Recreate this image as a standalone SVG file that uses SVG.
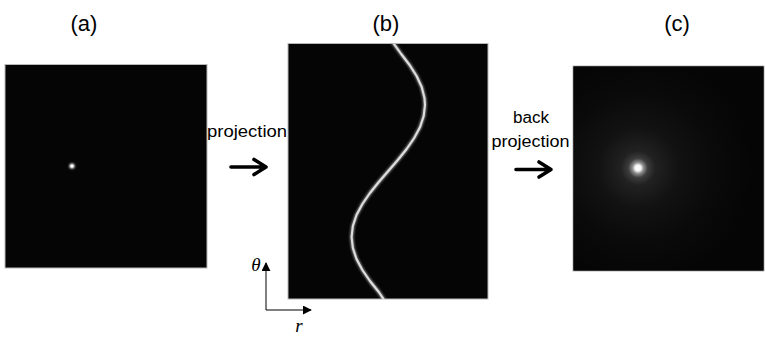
<svg xmlns="http://www.w3.org/2000/svg" width="765" height="337" viewBox="0 0 765 337">
<style>
.lbl{font-family:"Liberation Sans",Arial,sans-serif;font-size:22px;fill:#000;text-anchor:middle}
.cap{font-family:"Liberation Sans",Arial,sans-serif;font-size:16px;fill:#000;text-anchor:middle}
.ax{font-family:"Liberation Serif","Times New Roman",serif;font-style:italic;font-size:19px;fill:#000;text-anchor:middle}
.panel{fill:#050505;stroke:#b8b8b8;stroke-width:1}
.big{fill:none;stroke:#000;stroke-width:3.6;stroke-linecap:round;stroke-linejoin:round}
.thin{fill:none;stroke:#000;stroke-width:1}
</style>
<defs>
<filter id="blur1" x="-50%" y="-50%" width="200%" height="200%"><feGaussianBlur stdDeviation="0.8"/></filter>
<filter id="blur2" x="-10%" y="-10%" width="120%" height="120%"><feGaussianBlur stdDeviation="1.2"/></filter>
<radialGradient id="glow" gradientUnits="userSpaceOnUse" cx="638" cy="168" r="115">
<stop offset="0" stop-color="#ffffff"/>
<stop offset="0.025" stop-color="#f6f6f6"/>
<stop offset="0.05" stop-color="#8a8a8a"/>
<stop offset="0.085" stop-color="#3c3c3c"/>
<stop offset="0.15" stop-color="#212121"/>
<stop offset="0.35" stop-color="#121212"/>
<stop offset="0.65" stop-color="#0a0a0a"/>
<stop offset="1" stop-color="#050505"/>
</radialGradient>
<clipPath id="clipB"><rect x="288" y="43.5" width="200" height="255.5"/></clipPath>
<marker id="tri" viewBox="0 0 10 10" refX="9" refY="5" markerWidth="9" markerHeight="9" markerUnits="userSpaceOnUse" orient="auto"><path d="M0,0 L10,5 L0,10 z" fill="#000"/></marker>
</defs>

<g id="label-a"><text class="lbl" x="84" y="31">(a)</text></g>
<g id="label-b"><text class="lbl" x="386" y="31">(b)</text></g>
<g id="label-c"><text class="lbl" x="677" y="31">(c)</text></g>

<g id="panel-a">
<rect class="panel" x="5" y="64.5" width="202" height="203.5"/>
<circle cx="72" cy="166" r="2.6" fill="#fff" filter="url(#blur1)"/>
<circle cx="72" cy="166" r="1.6" fill="#fff"/>
</g>

<g id="panel-b">
<rect class="panel" x="288" y="43.5" width="200" height="255.5"/>
<g clip-path="url(#clipB)">
<polyline filter="url(#blur2)" fill="none" stroke="#8a8a8a" stroke-width="3.6" stroke-linejoin="round" points="391.8,41 401.2,54 409.6,65 416.6,76 421.7,87 424.5,98 425,105 423.7,116 420.1,127 414.2,138 406.65,149 397.8,160 388.3,171 378.8,182 369.95,193 362.4,204 356.5,215 352.85,226 351.6,237 352.85,248 356.5,259 362.4,270 369.95,281 378.8,292 384.8,301"/>
<polyline fill="none" stroke="#dedede" stroke-width="2.1" stroke-linejoin="round" points="391.8,41 401.2,54 409.6,65 416.6,76 421.7,87 424.5,98 425,105 423.7,116 420.1,127 414.2,138 406.65,149 397.8,160 388.3,171 378.8,182 369.95,193 362.4,204 356.5,215 352.85,226 351.6,237 352.85,248 356.5,259 362.4,270 369.95,281 378.8,292 384.8,301"/>
</g>
</g>

<g id="panel-c">
<rect class="panel" x="573" y="66" width="191" height="205"/>
<rect x="573.5" y="66.5" width="190" height="204" fill="url(#glow)"/>
</g>

<g id="label-projection"><text class="cap" x="247" y="137" textLength="80" lengthAdjust="spacingAndGlyphs">projection</text></g>
<g id="label-back-projection">
<text class="cap" x="531" y="123" textLength="36" lengthAdjust="spacingAndGlyphs">back</text>
<text class="cap" x="530.5" y="147" textLength="78" lengthAdjust="spacingAndGlyphs">projection</text>
</g>

<g id="axis-labels">
<text class="ax" x="256" y="271">θ</text>
<text class="ax" x="299" y="332">r</text>
</g>

<g id="connectors">
<path class="big" d="M231,167 H265 M254,159.5 L266,167 L254,174.5"/>
<path class="big" d="M516,169.5 H550 M539,162 L551,169.5 L539,177"/>
<path class="thin" d="M266,310 V263" marker-end="url(#tri)"/>
<path class="thin" d="M266,310 H311" marker-end="url(#tri)"/>
</g>
</svg>
